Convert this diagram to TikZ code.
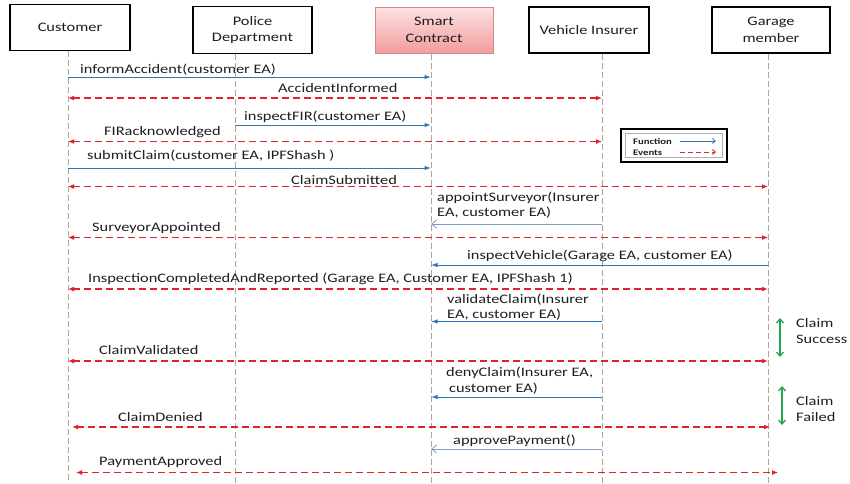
\documentclass[tikz,border=0pt]{standalone}
\usepackage{fontspec}
\setmainfont{Carlito}[FakeStretch=1.26]
\usetikzlibrary{arrows.meta}
\definecolor{lifec}{HTML}{B3A48E}
\definecolor{evc}{HTML}{E2222A}
\definecolor{fnc}{HTML}{2F78B8}
\definecolor{fno}{HTML}{7F9BC8}
\definecolor{txt}{HTML}{1E1E1E}
\definecolor{grn}{HTML}{22A84F}
\definecolor{scT}{HTML}{FDE2E2}
\definecolor{scB}{HTML}{F29C9C}
\definecolor{scD}{HTML}{CF8A8A}
\begin{document}
\begin{tikzpicture}[x=1pt,y=-1pt,
  actor/.style={draw=black, line width=1.6pt, fill=white, text=txt, align=center,
    font=\fontsize{13}{16.5}\selectfont, inner sep=0pt},
  life/.style={draw=lifec, line width=0.9pt, dash pattern=on 6pt off 3pt},
  fn/.style={draw=fnc, line width=1pt, -{Latex[length=6.5pt,width=4.5pt]}},
  fnopen/.style={draw=fno, line width=0.8pt, -{Straight Barb[length=5pt,width=8pt]}},
  ev/.style={draw=evc, line width=1.2pt, dash pattern=on 7pt off 4pt,
    {Latex[length=6pt,width=5pt]}-{Latex[length=6pt,width=5pt]}},
  lbl/.style={anchor=base west, text=txt, font=\fontsize{13}{16}\selectfont, inner sep=0pt},
  lgt/.style={anchor=base west, text=txt, font=\bfseries\fontsize{8.5}{10}\selectfont, inner sep=0pt},
  brace/.style={draw=grn, line width=1.3pt, {Straight Barb[length=4pt,width=7pt]}-{Straight Barb[length=4pt,width=7pt]}}
]
\useasboundingbox (0,0) rectangle (850,483);

% actors
\node[actor, minimum width=120pt, minimum height=46pt] (cust) at (70,27.5) {Customer};
\node[actor, minimum width=119pt, minimum height=47pt] (pol) at (252.5,30) {Police\\Department};
\node[draw=scD, line width=0.8pt, top color=scT, bottom color=scB, text=txt, align=center,
  font=\fontsize{13}{16.5}\selectfont, inner sep=0pt, minimum width=118pt, minimum height=46pt] (sc) at (434,30) {Smart\\Contract};
\node[actor, minimum width=120pt, minimum height=46pt] (ins) at (589,30) {Vehicle Insurer};
\node[actor, minimum width=118pt, minimum height=46pt] (gar) at (771,30) {Garage\\member};

% lifelines
\coordinate (cuT) at (68,51);   \coordinate (cuB) at (68,483);
\coordinate (poT) at (235,54);  \coordinate (poB) at (235,483);
\coordinate (scT) at (431,54);  \coordinate (scB) at (431,483);
\coordinate (inT) at (602,54);  \coordinate (inB) at (602,483);
\coordinate (gaT) at (768,54);  \coordinate (gaB) at (768,483);
\draw[life] (cuT) -- (cuB);
\draw[life] (poT) -- (poB);
\draw[life] (scT) -- (scB);
\draw[life] (inT) -- (inB);
\draw[life] (gaT) -- (gaB);

% 1 informAccident
\coordinate (m1a) at (68,77); \coordinate (m1b) at (431,77);
\draw[fn] (m1a) -- (m1b);
\node[lbl] (t1) at (80,73) {informAccident(customer EA)};
% 2 AccidentInformed
\coordinate (m2a) at (68,98); \coordinate (m2b) at (602,98);
\draw[ev] (m2a) -- (m2b);
\node[lbl] (t2) at (278,92.5) {AccidentInformed};
% 3 inspectFIR
\coordinate (m3a) at (235,125); \coordinate (m3b) at (431,125);
\draw[fn] (m3a) -- (m3b);
\node[lbl] (t3) at (244,120) {inspectFIR(customer EA)};
% 4 FIRacknowledged
\coordinate (m4a) at (68,141.5); \coordinate (m4b) at (602,141.5);
\draw[ev] (m4a) -- (m4b);
\node[lbl] (t4) at (104,135) {FIRacknowledged};
% 5 submitClaim
\coordinate (m5a) at (68,168); \coordinate (m5b) at (431,168);
\draw[fn] (m5a) -- (m5b);
\node[lbl] (t5) at (87,159) {submitClaim(customer EA, IPFShash )};
% 6 ClaimSubmitted
\coordinate (m6a) at (68,186.5); \coordinate (m6b) at (768,186.5);
\draw[ev] (m6a) -- (m6b);
\node[lbl] (t6) at (291,184.5) {ClaimSubmitted};
% 7 appointSurveyor
\coordinate (m7a) at (602,224); \coordinate (m7b) at (431,224);
\draw[fnopen] (m7a) -- (m7b);
\node[lbl] (t7a) at (437,201.5) {appointSurveyor(Insurer};
\node[lbl] (t7b) at (437,216.5) {EA, customer EA)};
% 8 SurveyorAppointed
\coordinate (m8a) at (68,237.5); \coordinate (m8b) at (768,237.5);
\draw[ev] (m8a) -- (m8b);
\node[lbl] (t8) at (92,231) {SurveyorAppointed};
% 9 inspectVehicle
\coordinate (m9a) at (768,265); \coordinate (m9b) at (431,265);
\draw[fn] (m9a) -- (m9b);
\node[lbl] (t9) at (467,259.5) {inspectVehicle(Garage EA, customer EA)};
% 10 InspectionCompletedAndReported
\coordinate (m10a) at (68,289); \coordinate (m10b) at (768,289);
\draw[ev] (m10a) -- (m10b);
\node[lbl] (t10) at (88,282) {InspectionCompletedAndReported (Garage EA, Customer EA, IPFShash 1)};
% 11 validateClaim
\coordinate (m11a) at (602,321.5); \coordinate (m11b) at (431,321.5);
\draw[fn] (m11a) -- (m11b);
\node[lbl] (t11a) at (447,303) {validateClaim(Insurer};
\node[lbl] (t11b) at (447,318.5) {EA, customer EA)};
% 12 ClaimValidated
\coordinate (m12a) at (68,361); \coordinate (m12b) at (768,361);
\draw[ev] (m12a) -- (m12b);
\node[lbl] (t12) at (99,354) {ClaimValidated};
% 13 denyClaim
\coordinate (m13a) at (602,397); \coordinate (m13b) at (431,397);
\draw[fn] (m13a) -- (m13b);
\node[lbl] (t13a) at (446,376) {denyClaim(Insurer EA,};
\node[lbl] (t13b) at (449,392) {customer EA)};
% 14 ClaimDenied
\coordinate (m14a) at (72,427); \coordinate (m14b) at (770,427);
\draw[ev] (m14a) -- (m14b);
\node[lbl] (t14) at (118,421) {ClaimDenied};
% 15 approvePayment
\coordinate (m15a) at (602,449); \coordinate (m15b) at (431,449);
\draw[fnopen] (m15a) -- (m15b);
\node[lbl] (t15) at (453,444) {approvePayment()};
% 16 PaymentApproved
\coordinate (m16a) at (76,472.5); \coordinate (m16b) at (778,472.5);
\draw[ev] (m16a) -- (m16b);
\node[lbl] (t16) at (99,465) {PaymentApproved};

% outcome markers
\coordinate (s1) at (780,318); \coordinate (s2) at (780,357);
\draw[brace] (s1) -- (s2);
\node[lbl] (cs1) at (796,327) {Claim};
\node[lbl] (cs2) at (796,343) {Success};
\coordinate (f1) at (782,386); \coordinate (f2) at (782,425);
\draw[brace] (f1) -- (f2);
\node[lbl] (cf1) at (796,405) {Claim};
\node[lbl] (cf2) at (796,421) {Failed};

% legend
\node[draw=black, line width=2.8pt, fill=white, minimum width=106pt, minimum height=33pt, inner sep=0pt] (leg) at (674,145.5) {};
\node[draw=gray!60, line width=0.5pt, minimum width=97pt, minimum height=24pt, inner sep=0pt] (legin) at (674,145.5) {};
\node[lgt] (lf) at (633,144) {Function};
\node[lgt] (le) at (633,155) {Events};
\coordinate (la1) at (680,141); \coordinate (la2) at (716,141);
\coordinate (lb1) at (680,152); \coordinate (lb2) at (716,152);
\draw[draw=fnc, line width=0.8pt, -{Straight Barb[length=3pt,width=5pt]}] (la1) -- (la2);
\draw[draw=evc, line width=0.9pt, dash pattern=on 5pt off 3pt, -{Straight Barb[length=3pt,width=5pt]}] (lb1) -- (lb2);
\end{tikzpicture}
\end{document}
